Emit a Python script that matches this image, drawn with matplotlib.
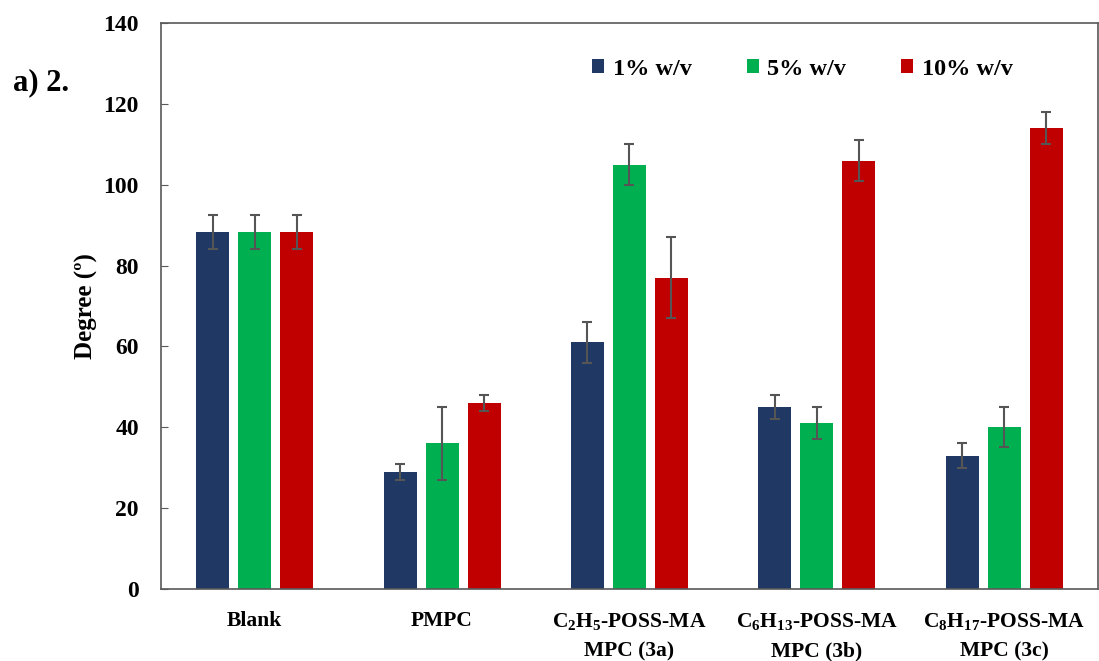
import numpy as np
import matplotlib
matplotlib.use("Agg")
import matplotlib.pyplot as plt

plt.rcParams['font.family'] = ['Liberation Serif', 'DejaVu Serif']
plt.rcParams['font.weight'] = 'bold'
plt.rcParams['mathtext.fontset'] = 'custom'
plt.rcParams['mathtext.rm'] = 'Liberation Serif:bold'
plt.rcParams['mathtext.bf'] = 'Liberation Serif:bold'
plt.rcParams['mathtext.default'] = 'bf'

# 샘플 / 농도별 접촉각 데이터
samples = ['Blank', 'PMPC',
           'C$_2$H$_5$-POSS-MA\nMPC (3a)',
           'C$_6$H$_{13}$-POSS-MA\nMPC (3b)',
           'C$_8$H$_{17}$-POSS-MA\nMPC (3c)']
series = ['1% w/v', '5% w/v', '10% w/v']
val_1 = [88.3, 29, 61, 45, 33]
val_5 = [88.3, 36, 105, 41, 40]
val_10 = [88.3, 46, 77, 106, 114]
err_1 = [4.2, 2, 5, 3, 3]
err_5 = [4.2, 9, 5, 4, 5]
err_10 = [4.2, 2, 10, 5, 4]
colors = ['#1F3864', '#00B050', '#C00000']

fig = plt.figure(figsize=(10.99, 6.61), dpi=100)
ax = fig.add_axes([0.1465, 0.109, 0.8525, 0.856])

x = np.arange(len(samples))
w = 0.176
step = 0.224
for i, (v, e) in enumerate(zip([val_1, val_5, val_10], [err_1, err_5, err_10])):
    ax.bar(x + (i - 1) * step, v, w, color=colors[i], label=series[i],
           yerr=e, capsize=3.5,
           error_kw=dict(ecolor='#555555', elinewidth=1.5, capthick=1.5))

ax.set_xlim(-0.5, len(samples) - 0.5)
ax.set_ylim(0, 140)
ax.set_yticks(range(0, 141, 20))
ax.set_xticks(x)
ax.set_xticklabels(samples, fontsize=15.5, fontweight='bold', linespacing=1.6)
ax.tick_params(axis='x', length=0, pad=16)
ax.tick_params(axis='y', direction='in', length=5, labelsize=17, pad=16,
               color='#595959')
for s in ax.spines.values():
    s.set_color('#595959')
    s.set_linewidth(1.2)

ax.set_ylabel('Degree (º)', fontsize=18, fontweight='bold', labelpad=4)

ax.legend(loc='upper left', bbox_to_anchor=(0.437, 0.976), ncol=3, frameon=False,
          handlelength=0.5, handleheight=0.5, handletextpad=0.35,
          columnspacing=2.26, prop={'weight': 'bold', 'size': 17.5})

fig.text(0.012, 0.875, 'a) 2.', fontsize=22, fontweight='bold', va='center')

fig.savefig('out.png', dpi=100)
